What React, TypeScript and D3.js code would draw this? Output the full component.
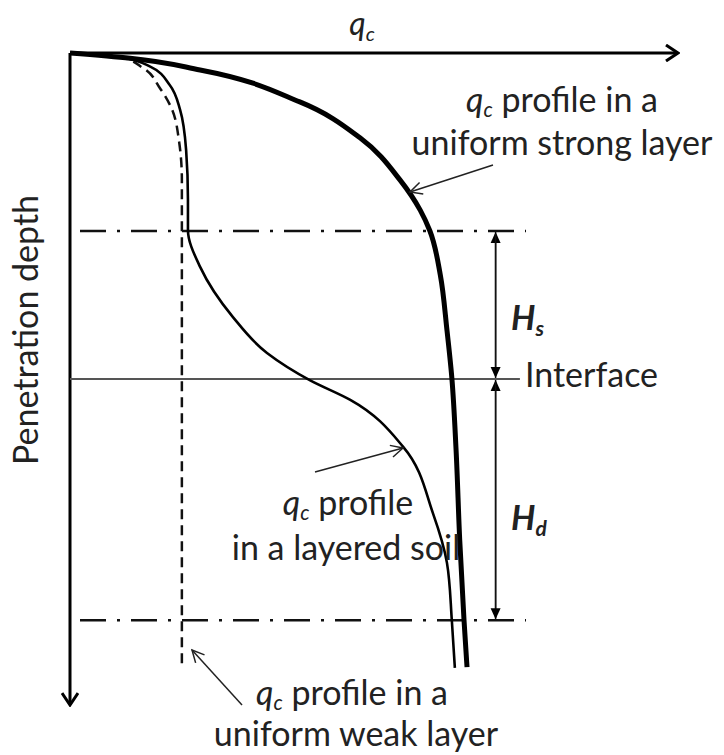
import * as d3 from "d3";

// qc (arbitrary units, 0–100) against penetration depth (0–100, interface at 50)
const strongQc = [0, 9.9, 21.4, 37.8, 47.7, 54.3, 57.6, 59.2, 60.9, 62.0, 62.8, 63.5, 64.1, 64.8, 65.3];
const strongDepth = [0, 0.8, 2.6, 7.5, 13.0, 19.5, 24.1, 27.3, 34.0, 42.5, 49.8, 60.9, 74.7, 86.9, 94.2];

const layeredQc = [0, 8.2, 13.2, 16.4, 18.1, 19.1, 19.4, 19.4, 21.4, 26.8, 32.4, 39.5, 46.1, 54.8, 59.7, 62.0, 62.8, 63.3];
const layeredDepth = [0, 0.6, 2.1, 4.9, 8.7, 14.9, 22.5, 27.1, 32.8, 40.5, 46.0, 50.2, 53.2, 60.4, 70.6, 78.2, 87.0, 94.3];

const weakQc = [0, 8.2, 12.0, 14.8, 16.8, 17.9, 18.4, 18.4, 18.4];
const weakDepth = [0, 0.6, 2.3, 5.4, 8.7, 13.3, 19.5, 27.6, 94.3];

const zoneTop = 27.3;
const interfaceDepth = 50;
const zoneBottom = 87;
const lineEndQc = 75;
const dimQc = 70;

const W = 724;
const H = 755;
const FONT = "Lato, 'Open Sans', sans-serif";
const FS = 34;

const x = d3.scaleLinear().domain([0, 100]).range([70, 678]);
const y = d3.scaleLinear().domain([0, 100]).range([53, 705]);

const line = d3.line<[number, number]>()
  .x(d => x(d[0]))
  .y(d => y(d[1]))
  .curve(d3.curveMonotoneY);

const zip = (q: number[], d: number[]) => q.map((v, i) => [v, d[i]] as [number, number]);

const Qc = () => (
  <>
    <tspan fontStyle="italic">q</tspan>
    <tspan fontStyle="italic" fontSize={FS * 0.6} dy={5}>c</tspan>
    <tspan dy={-5}> profile</tspan>
  </>
);

export default function App() {
  const txt = { fontFamily: FONT, fontSize: FS, fill: "#222" };
  return (
    <svg width={W} height={H} viewBox={`0 0 ${W} ${H}`}
      style={{ position: "absolute", left: 0, top: 0, background: "#fff" }}>
      <defs>
        <marker id="openHead" viewBox="-14 -9 16 18" markerWidth={16} markerHeight={18}
          markerUnits="userSpaceOnUse" orient="auto" refX={0} refY={0}>
          <path d="M-12,-8 L0,0 L-12,8" fill="none" stroke="#000" strokeWidth={3} />
        </marker>
        <marker id="thinHead" viewBox="-14 -8 16 16" markerWidth={16} markerHeight={16}
          markerUnits="userSpaceOnUse" orient="auto" refX={0} refY={0}>
          <path d="M-12,-6 L0,0 L-12,6" fill="none" stroke="#222" strokeWidth={1.5} />
        </marker>
        <marker id="fillHead" viewBox="-12 -6 13 12" markerWidth={13} markerHeight={12}
          markerUnits="userSpaceOnUse" orient="auto" refX={0} refY={0}>
          <path d="M-11,-5 L0,0 L-11,5 Z" fill="#000" />
        </marker>
      </defs>

      {/* axes */}
      <line x1={x(0)} y1={y(0)} x2={x(100)} y2={y(0)} stroke="#000" strokeWidth={3}
        markerEnd="url(#openHead)" />
      <line x1={x(0)} y1={y(0)} x2={x(0)} y2={y(100)} stroke="#000" strokeWidth={3}
        markerEnd="url(#openHead)" />

      {/* zone boundaries */}
      {[zoneTop, zoneBottom].map(d => (
        <line key={d} x1={x(0)} x2={x(lineEndQc)} y1={y(d)} y2={y(d)}
          stroke="#111" strokeWidth={2.5} strokeDasharray="26 11 3 11" strokeDashoffset={-10} />
      ))}
      <line x1={x(0)} x2={x(74)} y1={y(interfaceDepth)} y2={y(interfaceDepth)}
        stroke="#555" strokeWidth={1.8} />

      {/* dimension arrows */}
      <line x1={x(dimQc)} x2={x(dimQc)} y1={y(interfaceDepth) - 3} y2={y(zoneTop) + 1}
        stroke="#111" strokeWidth={1.5} markerEnd="url(#fillHead)" />
      <line x1={x(dimQc)} x2={x(dimQc)} y1={y(zoneTop) + 3} y2={y(interfaceDepth) - 1}
        stroke="#111" strokeWidth={1.5} markerEnd="url(#fillHead)" />
      <line x1={x(dimQc)} x2={x(dimQc)} y1={y(zoneBottom) - 3} y2={y(interfaceDepth) + 1}
        stroke="#111" strokeWidth={1.5} markerEnd="url(#fillHead)" />
      <line x1={x(dimQc)} x2={x(dimQc)} y1={y(interfaceDepth) + 3} y2={y(zoneBottom) - 1}
        stroke="#111" strokeWidth={1.5} markerEnd="url(#fillHead)" />

      {/* profiles */}
      <path d={line(zip(weakQc, weakDepth)) ?? ""} fill="none" stroke="#111"
        strokeWidth={2.5} strokeDasharray="10 6" />
      <path d={line(zip(layeredQc, layeredDepth)) ?? ""} fill="none" stroke="#000"
        strokeWidth={2.6} />
      <path d={line(zip(strongQc, strongDepth)) ?? ""} fill="none" stroke="#000"
        strokeWidth={5} />

      {/* annotation arrows */}
      <line x1={493} y1={165} x2={410} y2={192} stroke="#222" strokeWidth={1.5} markerEnd="url(#thinHead)" />
      <line x1={315} y1={472} x2={403} y2={448} stroke="#222" strokeWidth={1.5} markerEnd="url(#thinHead)" />
      <line x1={242} y1={705} x2={192} y2={650} stroke="#222" strokeWidth={1.5} markerEnd="url(#thinHead)" />

      {/* labels */}
      <text x={362} y={35} {...txt} fontSize={32} textAnchor="middle">
        <tspan fontStyle="italic">q</tspan>
        <tspan fontStyle="italic" fontSize={20} dy={6}>c</tspan>
      </text>
      <text transform="translate(38,330) rotate(-90)" {...txt} textAnchor="middle">Penetration depth</text>

      <text x={562} y={112} {...txt} textAnchor="middle"><Qc /> in a</text>
      <text x={562} y={155} {...txt} textAnchor="middle">uniform strong layer</text>

      <text x={348} y={515} {...txt} textAnchor="middle"><Qc /></text>
      <text x={346} y={560} {...txt} textAnchor="middle">in a layered soil</text>

      <text x={352} y={705} {...txt} textAnchor="middle"><Qc /> in a</text>
      <text x={356} y={746} {...txt} textAnchor="middle">uniform weak layer</text>

      <text x={525} y={387} {...txt}>Interface</text>

      <text x={511} y={330} {...txt} fontWeight="bold" fontStyle="italic">
        H<tspan fontSize={21} dy={6}>s</tspan>
      </text>
      <text x={511} y={530} {...txt} fontWeight="bold" fontStyle="italic">
        H<tspan fontSize={21} dy={6}>d</tspan>
      </text>
    </svg>
  );
}
